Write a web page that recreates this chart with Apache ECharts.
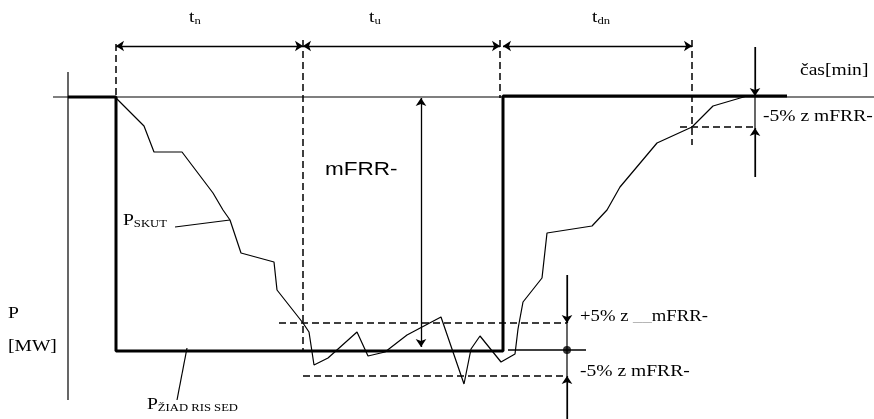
<!DOCTYPE html>
<html>
<head>
<meta charset="utf-8">
<script src="https://cdn.jsdelivr.net/npm/echarts@6/dist/echarts.min.js"></script>
<style>html,body{margin:0;padding:0;background:#fff}#c{width:874px;height:419px}</style>
</head>
<body>
<div id="c"></div>
<script>
// Diagram coordinates (time axis x, power axis y — drawn with inverted y)
const skutX = [116,144,154,182,213,223,230,241,274,277,303,309,314,328,357,368,385,407,441,464,471,480,501,515,518,523,542,547,592,607,620,657,692,713,747];
const skutY = [98,126,152,152,193,210,220,253,262,290,323,332,365,358,332,356,352,335,317,384,349,336,362,354,329,302,278,233,226,210,187,143,127,106,96];
const ziadX = [68,116,116,303,503,503,787];
const ziadY = [97,97,351,351,351,96,96];
const baseX = [53,874];
const baseY = [97,97];
const tolPlus = 323, tolMinus = 376, tolEnd = 127;
const phaseX = [116,303,500,692];   // t_n, t_u, t_dn boundaries
const dimY = 46;

function line(xs, ys, w, dash){
  return {type:'line', data: xs.map((x,i)=>[x,ys[i]]), showSymbol:false, silent:true, animation:false,
    lineStyle:{color:'#000', width:w, type: dash ? [7,4] : 'solid', cap:'butt'}, z:2};
}
const series = [];
series.push(line(baseX, baseY, 1.2));
series.push(line([68,68],[72,400],1.2));
series.push(line(ziadX, ziadY, 3));
series.push(line([508,586],[350,350],1.5));
series.push(line(skutX, skutY, 1.2));
// dashed guides
series.push(line([phaseX[0],phaseX[0]],[44,98],1.5,true));
series.push(line([phaseX[1],phaseX[1]],[40,351],1.5,true));
series.push(line([phaseX[2],phaseX[2]],[40,98],1.5,true));
series.push(line([phaseX[3],phaseX[3]],[40,145],1.5,true));
series.push(line([279,567],[tolPlus,tolPlus],1.5,true));
series.push(line([303,567],[tolMinus,tolMinus],1.5,true));
series.push(line([680,755],[tolEnd,tolEnd],1.5,true));
// plain verticals
series.push(line([567,567],[275,419],1.2));
series.push(line([755,755],[47,177],1.2));
// leaders
series.push(line([175,230],[227,220],1.2));
series.push(line([177,187],[400,348],1.2));
// arrows
series.push({type:'lines', coordinateSystem:'cartesian2d', silent:true, animation:false,
  symbol:['arrow','arrow'], symbolSize:8,
  lineStyle:{color:'#000', width:1.3, opacity:1},
  data:[
    {coords:[[phaseX[0],dimY],[phaseX[1],dimY]]},
    {coords:[[phaseX[1],dimY],[phaseX[2],dimY]]},
    {coords:[[503,dimY],[phaseX[3],dimY]]},
    {coords:[[421,98],[421,347]]}
  ]});
series.push({type:'lines', coordinateSystem:'cartesian2d', silent:true, animation:false,
  symbol:['none','arrow'], symbolSize:8,
  lineStyle:{color:'#000', width:1.2, opacity:1},
  data:[
    {coords:[[755,47],[755,96]]},
    {coords:[[755,177],[755,tolEnd+1]]},
    {coords:[[567,275],[567,tolPlus]]},
    {coords:[[567,419],[567,tolMinus]]}
  ]});
series.push({type:'scatter', data:[[567,350]], symbolSize:8, itemStyle:{color:'#000'}, silent:true, animation:false, z:5});

const serif = '"Liberation Serif","Times New Roman",serif';
function txt(x,y,text,rich,sx){
  return {type:'text', x:x, y:y, scaleX: sx||1.15, silent:true,
    style:{text:text, rich:rich, fill:'#000', verticalAlign:'middle', align:'left', font:'17px '+serif}};
}
const sub = {a:{fontSize:17,fontFamily:serif,verticalAlign:'bottom'}, b:{fontSize:11,fontFamily:serif,verticalAlign:'bottom'}};
const graphics = [
  txt(189,18,'{a|t}{b|n}',sub),
  txt(369,18,'{a|t}{b|u}',sub),
  txt(592,18,'{a|t}{b|dn}',sub),
  txt(800,71,'čas[min]'),
  txt(763,117,'-5% z mFRR-'),
  txt(123,221,'{a|P}{b|SKUT}',sub),
  txt(8,314,'P'),
  txt(8,347,'[MW]'),
  txt(147,405,'{a|P}{b|ŽIAD RIS SED}',sub),
  txt(580,317,'+5% z {g|__}mFRR-',{g:{fill:'#aaa',fontSize:17,fontFamily:serif}}, 1.1),
  txt(580,372,'-5% z mFRR-'),
  {type:'text', x:325, y:170, scaleX:1.25, silent:true,
    style:{text:'mFRR-', fill:'#000', verticalAlign:'middle', align:'left', font:'18px "Liberation Sans",Arial,sans-serif'}}
];

const chart = echarts.init(document.getElementById('c'), null, {renderer:'canvas'});
chart.setOption({
  animation:false,
  backgroundColor:'#fff',
  grid:{left:0,right:0,top:0,bottom:0},
  xAxis:{type:'value', min:0, max:874, show:false},
  yAxis:{type:'value', min:0, max:419, inverse:true, show:false},
  series: series,
  graphic: graphics
});
</script>
</body>
</html>
